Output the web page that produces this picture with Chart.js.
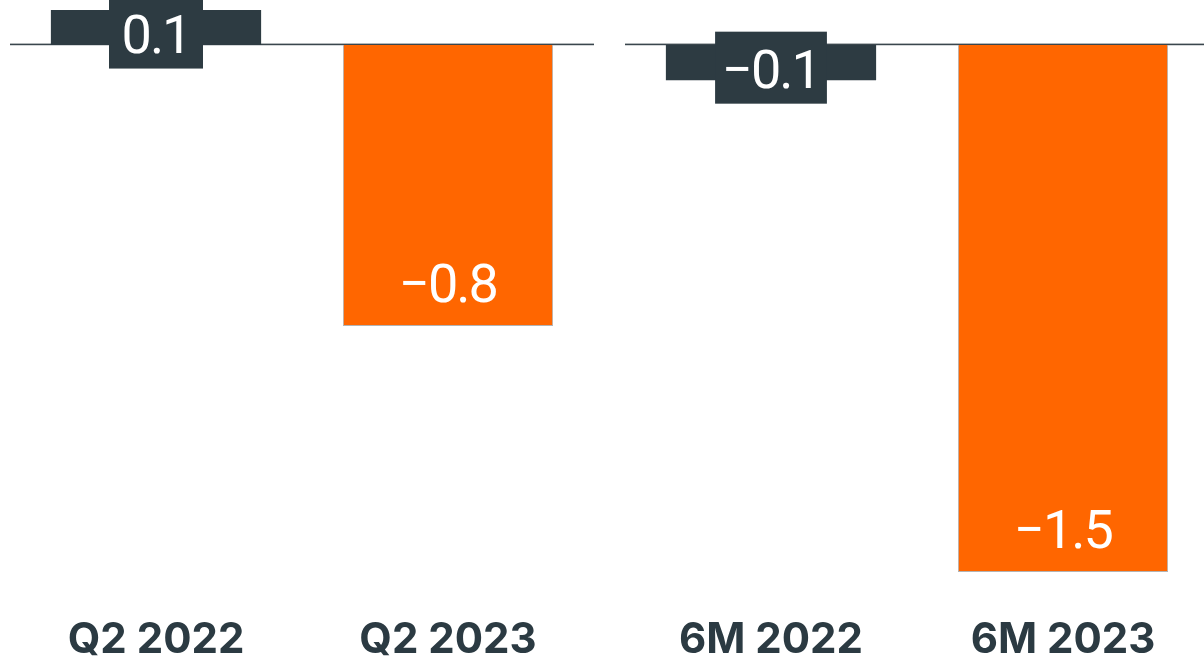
<!DOCTYPE html>
<html>
<head>
<meta charset="utf-8">
<script src="https://cdn.jsdelivr.net/npm/chart.js@4.4.1/dist/chart.umd.min.js"></script>
<style>
  html, body { margin: 0; padding: 0; background: #ffffff; width: 1204px; height: 662px; overflow: hidden; }
  .panel { position: absolute; top: 0; height: 662px; }
  #quarterPanel { left: 0; width: 602px; }
  #halfPanel { left: 615px; width: 604px; }
</style>
</head>
<body>
<div class="panel" id="quarterPanel"><canvas id="quarterChart"></canvas></div>
<div class="panel" id="halfPanel"><canvas id="halfChart"></canvas></div>
<script>
// Quarter comparison
const quarterLabels = ['Q2 2022', 'Q2 2023'];
const quarterValues = [0.1, -0.8];

// Six-month comparison
const halfLabels = ['6M 2022', '6M 2023'];
const halfValues = [-0.1, -1.5];

const DARK = '#2d3b42';
const ORANGE = '#ff6600';
const barColors = [DARK, ORANGE];

function formatValue(v) {
  return v.toFixed(1).replace('-', '\u2212');
}

// Zero line across the plot area, drawn under the bars
const zeroLine = {
  id: 'zeroLine',
  beforeDatasetsDraw(chart) {
    const { ctx, chartArea, scales } = chart;
    const y0 = scales.y.getPixelForValue(0);
    ctx.save();
    ctx.fillStyle = '#3a464d';
    ctx.fillRect(chartArea.left, y0 - 1.5, chartArea.right - chartArea.left, 1.6);
    ctx.restore();
  }
};

// Value labels: prior-year bars get a dark tab, current-year bars a label inside the bar end
const valueLabels = {
  id: 'valueLabels',
  afterDatasetsDraw(chart) {
    const { ctx } = chart;
    const meta = chart.getDatasetMeta(0);
    const values = chart.data.datasets[0].data;
    ctx.save();
    ctx.font = '400 54px Roboto';
    if ('letterSpacing' in ctx) ctx.letterSpacing = '-2px';
    ctx.textAlign = 'center';
    ctx.textBaseline = 'alphabetic';
    meta.data.forEach((bar, i) => {
      const text = formatValue(values[i]);
      const top = Math.min(bar.y, bar.base);
      const bottom = Math.max(bar.y, bar.base);
      let baseline;
      if (i === 0) {
        baseline = (top + bottom) / 2 + 25;
        const w = Math.max(ctx.measureText(text).width + 14, 94);
        ctx.fillStyle = DARK;
        ctx.fillRect(bar.x - w / 2, baseline - 56, w, 72);
      } else {
        baseline = bottom - 24;
      }
      ctx.fillStyle = '#ffffff';
      ctx.fillText(text, bar.x, baseline);
    });
    ctx.restore();
  }
};

function buildChart(canvasId, labels, values, padRight) {
  return new Chart(document.getElementById(canvasId), {
    type: 'bar',
    data: {
      labels: labels,
      datasets: [{
        data: values,
        backgroundColor: barColors,
        borderColor: ['rgba(0,0,0,0)', '#b3b3b3'],
        borderWidth: [0, 1],
        borderSkipped: 'start',
        barPercentage: 0.72,
        categoryPercentage: 1.0
      }]
    },
    options: {
      responsive: true,
      maintainAspectRatio: false,
      animation: false,
      events: [],
      layout: { padding: { top: 10, left: 10, right: padRight, bottom: 0 } },
      plugins: { legend: { display: false }, tooltip: { enabled: false } },
      scales: {
        x: {
          grid: { display: false },
          border: { display: false },
          ticks: {
            color: '#2b3a42',
            font: { family: 'Inter', size: 42, weight: '700' },
            padding: 0,
            maxRotation: 0
          },
          afterFit(scale) { scale.height = 55; }
        },
        y: {
          display: false,
          min: -1.6,
          max: 0.1
        }
      }
    },
    plugins: [zeroLine, valueLabels]
  });
}

Promise.all([
  document.fonts.load('700 42px Inter'),
  document.fonts.load('400 54px Roboto')
]).catch(() => {}).then(() => {
  buildChart('quarterChart', quarterLabels, quarterValues, 8);
  buildChart('halfChart', halfLabels, halfValues, 10);
});
</script>
</body>
</html>
